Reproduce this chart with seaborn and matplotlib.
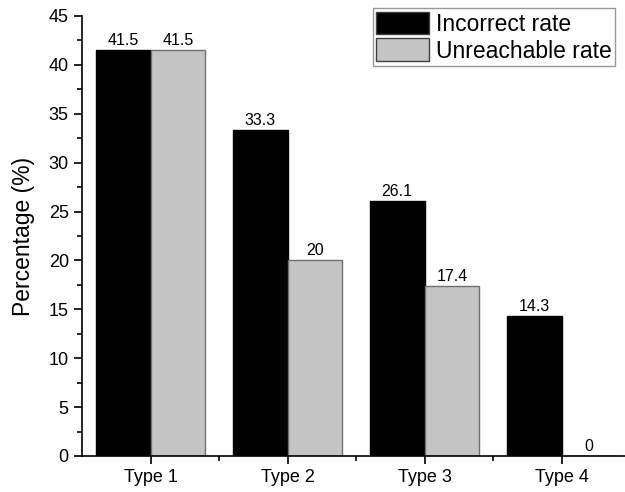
import pandas as pd
import matplotlib
matplotlib.use("Agg")
import matplotlib.pyplot as plt
import seaborn as sns
from matplotlib.ticker import MultipleLocator

# Data
types = ["Type 1", "Type 2", "Type 3", "Type 4"]
incorrect = [41.5, 33.3, 26.1, 14.3]
unreachable = [41.5, 20, 17.4, 0]
labels_incorrect = ["41.5", "33.3", "26.1", "14.3"]
labels_unreachable = ["41.5", "20", "17.4", "0"]

df = pd.DataFrame({
    "Type": types * 2,
    "Rate": ["Incorrect rate"] * 4 + ["Unreachable rate"] * 4,
    "Percentage": incorrect + unreachable,
})

sns.set_style("ticks", {"text.color": "black", "axes.labelcolor": "black",
                        "xtick.color": "black", "ytick.color": "black",
                        "axes.edgecolor": "black"})
plt.rcParams["font.family"] = ["Liberation Sans", "DejaVu Sans"]

fig = plt.figure(figsize=(6.25, 4.92), dpi=100)
ax = fig.add_axes([0.1312, 0.0732, 0.877, 0.8943])

sns.barplot(data=df, x="Type", y="Percentage", hue="Rate",
            palette=["#000000", "#c4c4c4"], width=0.8, ax=ax)

# bar edges
for bar, ec in zip(ax.patches[:8], ["black"] * 4 + ["#707070"] * 4):
    bar.set_edgecolor(ec)
    bar.set_linewidth(1.0)

for cont, labs in zip(ax.containers, [labels_incorrect, labels_unreachable]):
    ax.bar_label(cont, labels=labs, fontsize=11.5, padding=1.5, color="black")

ax.set_xlim(-0.5, 3.5)
ax.set_ylim(0, 45)
ax.yaxis.set_major_locator(MultipleLocator(5))
ax.yaxis.set_minor_locator(MultipleLocator(2.5))
ax.set_xticks([0, 1, 2, 3])
ax.set_xticks([0.5, 1.5, 2.5], minor=True)
ax.tick_params(axis="both", which="major", direction="out", length=6, width=1.2,
               labelsize=13, color="black", labelcolor="black")
ax.tick_params(axis="both", which="minor", direction="out", length=3.5, width=1.2,
               color="black")
ax.set_xlabel("")
ax.set_ylabel("Percentage (%)", fontsize=16.5, labelpad=10, color="black")

for s in ["left", "bottom"]:
    ax.spines[s].set_linewidth(1.2)
    ax.spines[s].set_color("black")
sns.despine(ax=ax)

leg = ax.legend(loc="upper right", bbox_to_anchor=(0.9726, 1.018), fontsize=16.5,
                frameon=True, fancybox=False, edgecolor="#808080",
                handlelength=2.3, handleheight=1.15, handletextpad=0.3,
                labelspacing=0.12, borderpad=0.15, borderaxespad=0.0)
leg.get_frame().set_linewidth(1.0)
for h in leg.legend_handles:
    h.set_edgecolor("#404040")
for t in leg.get_texts():
    t.set_color("black")

fig.savefig("out.png", dpi=100)
